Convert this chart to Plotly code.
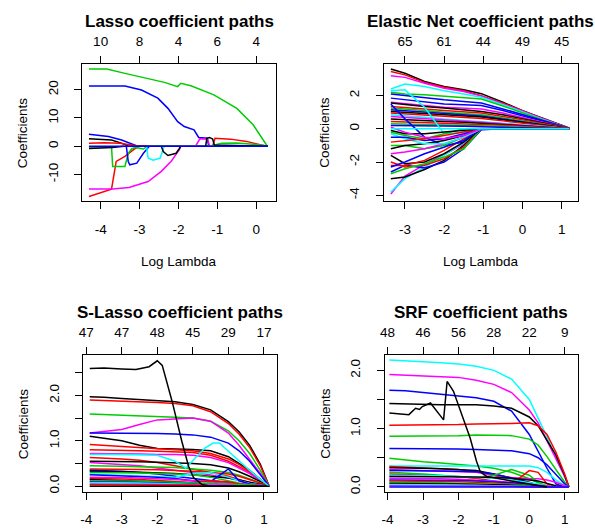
import plotly.graph_objects as go

W, H = 595, 530
FONT = "Liberation Sans, Arial, Helvetica, sans-serif"
R_COLS = ["#000000", "#FF0000", "#00CD00", "#0000FF", "#00FFFF", "#FF00FF"]

# ---------------- Panel 1: Lasso (each path has its own lambda points) ----------
lasso_x = [
    [-4.3, -3.84, -3.375, -2.78, -2.36, -2.02, -1.94, -1.68, -1.09, -0.5, -0.08, 0.26, 0.3],
    [-4.3, -3.375, -2.95, -2.53, -2.27, -2.02, -1.85, -1.6, -1.48, -1.26, -1.22, 0.3],
    [-4.3, -3.8, -3.46, -3.12, -3.05, 0.3],
    [-4.3, -3.72, -3.45, -3.29, 0.3],
    [-4.3, -3.9, -3.5, -3.1, -3.0],
    [-4.3, -3.72, -3.6, -3.375, -3.12, -3.0, -1.12, -1.06, -0.66, -0.25, 0.1, 0.3],
    [-4.3, -3.69, -3.27, -2.78, -2.44, -2.19, -1.98, -1.94, -1.56, -1.45, -1.25, -1.2, 0.3],
    [-4.3, -3.72, -3.69, -3.375, -3.29, -3.2, -3.1, -2.9, -2.8, 0.3],
    [-1.2, -0.89, -0.5, 0.0, 0.3],
    [-3.34, -3.29, -3.25, -3.07, -2.9, -2.8, -2.75],
    [-2.82, -2.78, -2.65, -2.47, -2.39, -2.36],
    [-2.44, -2.39, -2.27, -2.06, -1.98, -1.94],
    [-1.3, -1.27, -1.2, -1.12, -1.08, -0.5, 0.3],
    [-4.3, -3.7, -3.4],
    [-4.3, 0.3],
]
lasso_y = [
    [27.3, 27.3, 25.8, 24.0, 22.6, 21.1, 22.3, 21.4, 18.2, 13.4, 7.6, 0.5, 0],
    [21.3, 21.3, 19.9, 17.0, 13.4, 8.7, 6.96, 5.8, 3.1, 2.8, 0, 0],
    [4.2, 3.4, 2.2, 0.3, 0, 0],
    [2.6, 2.2, 1.0, 0, 0],
    [1.0, 1.2, 1.0, 0.3, 0],
    [-17.8, -15.2, -5.4, -3.6, -0.9, 0, 0, 2.8, 2.5, 1.7, 0.5, 0],
    [-15.2, -15.2, -14.6, -12.5, -8.9, -5.4, -1.3, 0, 0, 2.6, 2.5, 0, 0],
    [-0.3, -0.3, -7.2, -7.2, -2.5, -0.9, -0.5, -1.0, 0, 0],
    [0, 1.0, 1.1, 0.6, 0],
    [0, -5.4, -6.6, -6.0, -2.5, -0.7, 0],
    [0, -4.2, -5.0, -4.2, -0.9, 0],
    [0, -1.9, -3.3, -2.5, -0.9, 0],
    [0, 2.8, 3.1, 2.5, 0.4, 0.3, 0],
    [-0.8, -0.5, 0],
    [0, 0],
]
lasso_col = [2, 3, 3, 0, 1, 1, 5, 2, 2, 3, 4, 0, 0, 0, 3]

# ---------------- Panel 2: Elastic Net ----------------------------------------
en_lambda = [-3.36, -3.0, -2.5, -2.0, -1.5, -1.05, -0.5, 0.0, 0.5, 1.0, 1.19]
en_paths = [
    [3.6, 3.35, 2.85, 2.55, 2.35, 2.12, 1.6, 1.1, 0.65, 0.22, 0.05],
    [3.45, 3.25, 2.8, 2.5, 2.3, 2.0, 1.55, 1.07, 0.62, 0.2, 0.05],
    [3.2, 3.1, 2.75, 2.45, 2.25, 1.97, 1.5, 1.05, 0.6, 0.19, 0.05],
    [2.4, 2.7, 2.55, 2.3, 2.1, 1.9, 1.45, 1.0, 0.58, 0.18, 0.05],
    [2.2, 2.1, 2.05, 1.95, 1.85, 1.8, 1.38, 0.95, 0.55, 0.17, 0.04],
    [2.1, 2.0, 1.85, 1.75, 1.65, 1.55, 1.2, 0.85, 0.5, 0.15, 0.04],
    [1.85, 1.75, 1.6, 1.5, 1.45, 1.4, 1.1, 0.78, 0.45, 0.14, 0.04],
    [1.6, 1.5, 1.4, 1.3, 1.25, 1.2, 0.95, 0.68, 0.4, 0.12, 0.03],
    [1.55, 1.45, 1.35, 1.25, 1.15, 1.05, 0.85, 0.6, 0.36, 0.11, 0.03],
    [1.35, 1.3, 1.2, 1.1, 1.0, 0.95, 0.75, 0.54, 0.32, 0.1, 0.03],
    [1.25, 1.2, 1.1, 1.0, 0.9, 0.85, 0.66, 0.48, 0.29, 0.09, 0.02],
    [1.15, 1.1, 1.0, 0.92, 0.85, 0.78, 0.6, 0.44, 0.26, 0.08, 0.02],
    [1.05, 1.0, 0.95, 0.88, 0.8, 0.72, 0.55, 0.4, 0.24, 0.07, 0.02],
    [0.95, 0.9, 0.85, 0.78, 0.7, 0.62, 0.48, 0.35, 0.21, 0.07, 0.02],
    [0.85, 0.8, 0.7, 0.6, 0.52, 0.45, 0.35, 0.25, 0.15, 0.05, 0.01],
    [0.75, 0.7, 0.62, 0.55, 0.5, 0.4, 0.3, 0.22, 0.13, 0.04, 0.01],
    [0.6, 0.55, 0.5, 0.45, 0.4, 0.35, 0.27, 0.19, 0.11, 0.04, 0.01],
    [0.45, 0.42, 0.4, 0.38, 0.34, 0.3, 0.22, 0.16, 0.1, 0.03, 0.0],
    [0.3, 0.28, 0.26, 0.25, 0.23, 0.2, 0.15, 0.1, 0.06, 0.02, 0.0],
    [0.2, 0.2, 0.18, 0.17, 0.15, 0.12, 0.09, 0.06, 0.04, 0.01, 0.0],
    [2.3, 2.35, 1.3, -0.3, -0.2, 0, 0, 0, 0, 0, 0],
    [1.5, 0.6, -0.5, -1.0, -0.8, 0, 0, 0, 0, 0, 0],
    [-3.92, -2.85, -2.16, -1.56, -0.9, 0, 0, 0, 0, 0, 0],
    [-3.8, -3.0, -2.3, -1.6, -0.85, 0, 0, 0, 0, 0, 0],
    [-3.0, -2.9, -2.45, -1.9, -1.0, 0, 0, 0, 0, 0, 0],
    [-2.6, -2.2, -2.35, -2.0, -1.2, -0.05, 0, 0, 0, 0, 0],
    [-2.0, -2.3, -2.2, -1.8, -1.1, 0, 0, 0, 0, 0, 0],
    [-2.7, -2.4, -2.1, -1.7, -1.2, 0, 0, 0, 0, 0, 0],
    [-1.6, -2.1, -2.0, -1.5, -0.8, 0, 0, 0, 0, 0, 0],
    [-2.2, -2.2, -1.9, -1.3, -0.6, 0, 0, 0, 0, 0, 0],
    [-2.3, -2.0, -1.5, -1.1, -0.7, 0, 0, 0, 0, 0, 0],
    [-1.0, -1.0, -1.2, -1.0, -0.5, 0, 0, 0, 0, 0, 0],
    [-1.2, -1.0, -0.9, -0.7, -0.4, 0, 0, 0, 0, 0, 0],
    [-1.5, -1.4, -1.2, -0.9, -0.5, 0, 0, 0, 0, 0, 0],
    [-0.3, -0.6, -0.9, -0.9, -0.5, 0, 0, 0, 0, 0, 0],
    [-0.5, -0.5, -0.7, -0.6, -0.3, 0, 0, 0, 0, 0, 0],
    [-0.2, -0.4, -0.6, -0.3, 0, 0, 0, 0, 0, 0, 0],
    [-0.8, -0.7, -0.6, -0.4, -0.2, 0, 0, 0, 0, 0, 0],
    [-0.1, -0.3, -0.3, -0.2, -0.1, 0, 0, 0, 0, 0, 0],
    [0.1, -0.2, -0.5, -0.6, -0.4, 0, 0, 0, 0, 0, 0],
    [0.0, 0.0, 0.0, 0.0, 0.0, 0, 0, 0, 0, 0, 0],
]
en_col = [0, 1, 5, 4, 2, 3, 3, 5, 0, 1, 2, 3, 0, 1, 4, 5, 0, 1, 2, 3,
          4, 3, 5, 4, 0, 3, 1, 2, 0, 1, 3, 2, 0, 5, 4, 3, 2, 1, 0, 5, 4]

# ---------------- Panel 3: S-Lasso ---------------------------------------------
sl_lambda = [-3.9, -3.5, -3.0, -2.5, -2.0, -1.5, -1.0, -0.5, 0.0, 0.3, 0.6, 0.9, 1.15]
sl_paths = [
    [1.97, 1.96, 1.93, 1.91, 1.88, 1.86, 1.8, 1.68, 1.42, 1.2, 0.9, 0.48, 0],
    [1.9, 1.89, 1.88, 1.86, 1.84, 1.82, 1.77, 1.64, 1.38, 1.15, 0.85, 0.45, 0],
    [1.59, 1.58, 1.56, 1.54, 1.53, 1.52, 1.5, 1.43, 1.22, 1.0, 0.72, 0.35, 0],
    [1.17, 1.2, 1.25, 1.36, 1.46, 1.48, 1.5, 1.43, 1.17, 0.9, 0.6, 0.28, 0],
    [1.17, 1.17, 1.16, 1.16, 1.16, 1.15, 1.13, 1.08, 0.95, 0.78, 0.55, 0.25, 0],
    [1.1, 1.06, 1.0, 0.9, 0.83, 0.82, 0.81, 0.78, 0.65, 0.5, 0.35, 0.15, 0],
    [0.92, 0.9, 0.86, 0.84, 0.82, 0.8, 0.78, 0.72, 0.6, 0.48, 0.32, 0.15, 0],
    [0.8, 0.79, 0.78, 0.78, 0.77, 0.76, 0.74, 0.68, 0.55, 0.43, 0.3, 0.14, 0],
    [0.72, 0.72, 0.71, 0.71, 0.7, 0.7, 0.68, 0.63, 0.52, 0.4, 0.28, 0.12, 0],
    [0.63, 0.62, 0.6, 0.57, 0.52, 0.45, 0.38, 0.3, 0.22, 0.15, 0.08, 0.03, 0],
    [0.55, 0.55, 0.54, 0.54, 0.53, 0.52, 0.5, 0.47, 0.4, 0.32, 0.22, 0.1, 0],
    [0.52, 0.5, 0.48, 0.45, 0.4, 0.35, 0.3, 0.25, 0.18, 0.12, 0.07, 0.02, 0],
    [0.45, 0.45, 0.44, 0.43, 0.42, 0.41, 0.38, 0.35, 0.3, 0.24, 0.16, 0.07, 0],
    [0.38, 0.38, 0.37, 0.37, 0.36, 0.35, 0.33, 0.3, 0.27, 0.22, 0.15, 0.07, 0],
    [0.35, 0.34, 0.33, 0.3, 0.27, 0.22, 0.17, 0.12, 0.08, 0.05, 0.02, 0.01, 0],
    [0.33, 0.33, 0.32, 0.31, 0.3, 0.28, 0.25, 0.22, 0.18, 0.14, 0.09, 0.04, 0],
    [0.3, 0.3, 0.3, 0.29, 0.28, 0.27, 0.25, 0.2, 0.12, 0.06, 0.02, 0, 0],
    [0.27, 0.26, 0.25, 0.24, 0.22, 0.2, 0.28, 0.3, 0.2, 0.12, 0.06, 0.02, 0],
    [0.25, 0.24, 0.23, 0.22, 0.2, 0.17, 0.12, 0.1, 0.38, 0.12, 0.05, 0.02, 0],
    [0.2, 0.2, 0.19, 0.18, 0.17, 0.15, 0.12, 0.1, 0.08, 0.06, 0.04, 0.02, 0],
    [0.17, 0.17, 0.16, 0.15, 0.13, 0.1, 0.08, 0.12, 0.1, 0.05, 0.02, 0.01, 0],
    [0.15, 0.14, 0.13, 0.12, 0.1, 0.08, 0.06, 0.04, 0.02, 0.01, 0, 0, 0],
    [0.12, 0.12, 0.12, 0.11, 0.1, 0.09, 0.08, 0.07, 0.05, 0.04, 0.03, 0.02, 0],
    [0.1, 0.1, 0.09, 0.08, 0.07, 0.05, 0.04, 0.03, 0.02, 0.01, 0, 0, 0],
    [0.08, 0.08, 0.07, 0.07, 0.06, 0.05, 0.04, 0.03, 0.02, 0.01, 0.01, 0, 0],
    [0.05, 0.05, 0.05, 0.04, 0.04, 0.03, 0.03, 0.02, 0.02, 0.01, 0, 0, 0],
    [0.03, 0.03, 0.03, 0.03, 0.02, 0.02, 0.02, 0.01, 0.01, 0.01, 0, 0, 0],
    [0, 0, 0, 0, 0, 0, 0, 0, 0, 0, 0, 0, 0],
]
sl_col = [0, 1, 2, 5, 3, 0, 1, 1, 5, 1, 0, 5, 2, 1, 3, 0, 2, 4, 3, 5, 1, 0, 2, 3, 4, 5, 1, 0]
sl_spike_x = [-3.9, -3.5, -3.0, -2.6, -2.23, -2.0, -1.86, -1.58, -1.31, -1.12, -0.98, -0.75, -0.5, 1.15]
sl_spike_y = [2.59, 2.6, 2.58, 2.57, 2.63, 2.76, 2.66, 1.86, 0.99, 0.44, 0.19, 0.04, 0, 0]
sl_cyan_x = [-3.9, -3.0, -2.0, -1.5, -1.2, -0.66, -0.43, -0.25, 0.0, 0.3, 0.6, 0.9, 1.15]
sl_cyan_y = [0.7, 0.7, 0.68, 0.55, 0.4, 0.84, 0.95, 0.95, 0.77, 0.55, 0.35, 0.15, 0]

# ---------------- Panel 4: SRF -------------------------------------------------
srf_lambda = [-3.95, -3.5, -3.0, -2.5, -2.0, -1.5, -1.0, -0.5, 0.0, 0.25, 0.5, 0.75, 1.0, 1.12]
srf_paths = [
    [2.18, 2.16, 2.15, 2.13, 2.11, 2.07, 2.0, 1.85, 1.5, 1.18, 0.86, 0.5, 0.17, 0],
    [1.93, 1.92, 1.91, 1.9, 1.88, 1.83, 1.76, 1.62, 1.32, 1.1, 0.8, 0.5, 0.18, 0],
    [1.66, 1.65, 1.62, 1.59, 1.56, 1.53, 1.47, 1.3, 0.9, 0.6, 0.32, 0.05, 0, 0],
    [1.43, 1.42, 1.42, 1.41, 1.41, 1.41, 1.39, 1.35, 1.2, 1.05, 0.8, 0.55, 0.2, 0],
    [1.06, 1.06, 1.06, 1.07, 1.07, 1.08, 1.08, 1.09, 1.1, 1.05, 0.9, 0.6, 0.22, 0],
    [0.87, 0.87, 0.88, 0.88, 0.88, 0.89, 0.89, 0.88, 0.82, 0.72, 0.52, 0.3, 0.08, 0],
    [0.66, 0.66, 0.66, 0.65, 0.65, 0.64, 0.63, 0.62, 0.57, 0.5, 0.38, 0.22, 0.05, 0],
    [0.49, 0.46, 0.43, 0.41, 0.39, 0.36, 0.32, 0.25, 0.14, 0.07, 0.02, 0, 0, 0],
    [0.36, 0.36, 0.36, 0.36, 0.36, 0.36, 0.36, 0.36, 0.36, 0.33, 0.25, 0.12, 0.02, 0],
    [0.35, 0.34, 0.33, 0.32, 0.3, 0.26, 0.2, 0.12, 0.05, 0.02, 0, 0, 0, 0],
    [0.33, 0.33, 0.32, 0.31, 0.3, 0.28, 0.22, 0.15, 0.08, 0.03, 0, 0, 0, 0],
    [0.3, 0.29, 0.28, 0.27, 0.26, 0.25, 0.2, 0.16, 0.14, 0.14, 0.12, 0.08, 0.02, 0],
    [0.28, 0.28, 0.28, 0.28, 0.27, 0.26, 0.22, 0.15, 0.06, 0.02, 0, 0, 0, 0],
    [0.25, 0.24, 0.22, 0.2, 0.18, 0.15, 0.2, 0.3, 0.2, 0.08, 0, 0, 0, 0],
    [0.22, 0.21, 0.2, 0.19, 0.18, 0.15, 0.1, 0.05, 0.28, 0.25, 0.05, 0, 0, 0],
    [0.2, 0.2, 0.19, 0.19, 0.18, 0.17, 0.15, 0.12, 0.08, 0.05, 0.02, 0, 0, 0],
    [0.18, 0.18, 0.18, 0.17, 0.17, 0.17, 0.16, 0.15, 0.12, 0.1, 0.06, 0.02, 0, 0],
    [0.15, 0.15, 0.14, 0.14, 0.13, 0.12, 0.1, 0.08, 0.05, 0.03, 0.01, 0, 0, 0],
    [0.12, 0.12, 0.12, 0.11, 0.11, 0.1, 0.09, 0.07, 0.04, 0.02, 0, 0, 0, 0],
    [0.1, 0.1, 0.1, 0.09, 0.09, 0.08, 0.07, 0.05, 0.03, 0.01, 0, 0, 0, 0],
    [0.08, 0.08, 0.07, 0.07, 0.06, 0.06, 0.05, 0.04, 0.02, 0.01, 0, 0, 0, 0],
    [0.06, 0.06, 0.05, 0.05, 0.05, 0.04, 0.04, 0.03, 0.02, 0.01, 0, 0, 0, 0],
    [0.04, 0.04, 0.04, 0.03, 0.03, 0.03, 0.02, 0.02, 0.01, 0, 0, 0, 0, 0],
    [0.02, 0.02, 0.02, 0.02, 0.02, 0.01, 0.01, 0.01, 0, 0, 0, 0, 0, 0],
    [0, 0, 0, 0, 0, 0, 0, 0, 0, 0, 0, 0, 0, 0],
]
srf_col = [4, 5, 3, 0, 1, 2, 3, 2, 4, 1, 0, 5, 3, 2, 1, 4, 0, 5, 3, 1, 2, 0, 4, 5, 3]
srf_wavy_x = [-3.95, -3.4, -3.21, -3.1, -3.02, -2.79, -2.42, -2.32, -2.14, -1.9, -1.67,
              -1.49, -1.39, -1.3, -1.2, -0.5, 0.0, 0.5]
srf_wavy_y = [1.27, 1.24, 1.35, 1.33, 1.38, 1.44, 1.15, 1.81, 1.64, 1.24, 0.84,
              0.44, 0.27, 0.22, 0.18, 0.1, 0.05, 0]

# ---------------- axis labels ---------------------------------------------------
titles = ["Lasso coefficient paths", "Elastic Net coefficient paths",
          "S-Lasso coefficient paths", "SRF coefficient paths"]
bottom_ticks = [[-4, -3, -2, -1, 0], [-3, -2, -1, 0, 1],
                [-4, -3, -2, -1, 0, 1], [-4, -3, -2, -1, 0, 1]]
top_labels = [["10", "8", "4", "6", "4"], ["65", "61", "44", "49", "45"],
              ["47", "47", "48", "45", "29", "17"], ["48", "46", "56", "28", "22", "9"]]
y_ticks = [[-10, 0, 10, 20], [-4, -2, 0, 2], [0, 0.5, 1.0, 1.5, 2.0, 2.5], [0, 0.5, 1.0, 1.5, 2.0]]
y_ticktext = [["-10", "0", "10", "20"], ["-4", "-2", "0", "2"],
              ["0.0", "", "1.0", "", "2.0", ""], ["0.0", "", "1.0", "", "2.0"]]
x_title = ["Log Lambda", "Log Lambda", None, None]
x_ranges = [[-4.47, 0.5], [-3.54, 1.42], [-4.08, 1.36], [-4.08, 1.38]]
y_ranges = [[-19.5, 29.2], [-4.36, 3.92], [-0.13, 2.895], [-0.09, 2.27]]
# plot boxes in pixels: left, right, top, bottom
boxes = [(78, 273, 64, 202), (382, 578, 64, 202), (79, 274, 356, 494), (383, 578, 356, 494)]

fig = go.Figure()
LW = 1.5


def add_line(panel, xs, ys, col):
    xa = "x" if panel == 0 else "x%d" % (2 * panel + 1)
    ya = "y" if panel == 0 else "y%d" % (panel + 1)
    fig.add_trace(go.Scatter(x=xs, y=ys, mode="lines", xaxis=xa, yaxis=ya,
                             line=dict(color=R_COLS[col], width=LW),
                             showlegend=False, hoverinfo="skip"))


for xs, ys, c in zip(lasso_x, lasso_y, lasso_col):
    add_line(0, xs, ys, c)
for ys, c in zip(en_paths, en_col):
    add_line(1, en_lambda, ys, c)
for ys, c in zip(sl_paths, sl_col):
    add_line(2, sl_lambda, ys, c)
add_line(2, sl_cyan_x, sl_cyan_y, 4)
add_line(2, sl_spike_x, sl_spike_y, 0)
for ys, c in zip(srf_paths, srf_col):
    add_line(3, srf_lambda, ys, c)
add_line(3, srf_wavy_x, srf_wavy_y, 0)

tickfont = dict(family=FONT, size=13.5, color="black")
annotations = []
layout = {}
for i in range(4):
    l, r, t, b = boxes[i]
    xd = [l / W, r / W]
    yd = [1 - b / H, 1 - t / H]
    bx = "xaxis" if i == 0 else "xaxis%d" % (2 * i + 1)
    tx = "xaxis%d" % (2 * i + 2)
    yk = "yaxis" if i == 0 else "yaxis%d" % (i + 1)
    yref = "y" if i == 0 else "y%d" % (i + 1)
    bref = "x" if i == 0 else "x%d" % (2 * i + 1)
    layout[bx] = dict(domain=xd, range=x_ranges[i], anchor=yref, showgrid=False, zeroline=False,
                      showline=True, mirror=True, linecolor="black", linewidth=1.2,
                      ticks="outside", ticklen=7, tickwidth=1.2, tickcolor="black",
                      tickvals=bottom_ticks[i], ticktext=[str(v) for v in bottom_ticks[i]],
                      tickfont=tickfont, ticklabelstandoff=8)
    layout[tx] = dict(range=x_ranges[i], overlaying=bref, anchor=yref, side="top",
                      showgrid=False, zeroline=False, showline=False,
                      ticks="outside", ticklen=7, tickwidth=1.2, tickcolor="black",
                      tickvals=bottom_ticks[i], ticktext=top_labels[i],
                      tickfont=tickfont, ticklabelstandoff=4)
    layout[yk] = dict(domain=yd, range=y_ranges[i], anchor=bref, showgrid=False, zeroline=False,
                      showline=True, mirror=True, linecolor="black", linewidth=1.2,
                      ticks="outside", ticklen=7, tickwidth=1.2, tickcolor="black",
                      tickvals=y_ticks[i], ticktext=y_ticktext[i], tickangle=-90,
                      tickfont=tickfont, ticklabelstandoff=11)
    # dummy empty trace so the top axis gets drawn
    fig.add_trace(go.Scatter(x=[], y=[], xaxis=tx.replace("axis", ""), yaxis=yref,
                             showlegend=False, hoverinfo="skip"))
    cx = (l + r) / 2 / W
    annotations.append(dict(text="<b>%s</b>" % titles[i], x=cx, y=1 - (t - 42) / H,
                            xref="paper", yref="paper", showarrow=False,
                            xanchor="center", yanchor="middle",
                            font=dict(family=FONT, size=17, color="black")))
    annotations.append(dict(text="Coefficients", x=(l - 60) / W, y=1 - (t + b) / 2 / H,
                            xref="paper", yref="paper", showarrow=False, textangle=-90,
                            xanchor="center", yanchor="middle",
                            font=dict(family=FONT, size=13.5, color="black")))
    if x_title[i]:
        annotations.append(dict(text=x_title[i], x=cx, y=1 - (b + 60) / H,
                                xref="paper", yref="paper", showarrow=False,
                                xanchor="center", yanchor="middle",
                                font=dict(family=FONT, size=13.5, color="black")))

fig.update_layout(width=W, height=H, margin=dict(l=0, r=0, t=0, b=0),
                  paper_bgcolor="white", plot_bgcolor="white",
                  showlegend=False, annotations=annotations, **layout)
fig.write_html("out.html", config={"displayModeBar": False},
               post_script="document.body.style.margin='0px';")
